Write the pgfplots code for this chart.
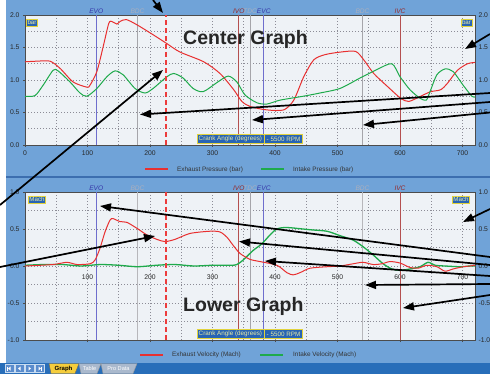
\documentclass[border=0pt]{standalone}
\usepackage{fontspec}
\setmainfont{Liberation Sans}
\usepackage{pgfplots}
\pgfplotsset{compat=1.18}
\usetikzlibrary{arrows.meta}

\definecolor{panel}{RGB}{112,163,216}
\definecolor{plotbg}{RGB}{238,242,246}
\definecolor{band}{RGB}{60,110,175}
\definecolor{tabbar}{RGB}{40,110,185}
\definecolor{tabgray}{RGB}{170,185,205}
\definecolor{exh}{RGB}{232,48,48}
\definecolor{dashc}{RGB}{236,60,60}
\definecolor{intk}{RGB}{30,170,75}
\definecolor{evline}{RGB}{110,110,205}
\definecolor{evtext}{RGB}{55,55,170}
\definecolor{bdcline}{RGB}{165,165,170}
\definecolor{bdctext}{RGB}{170,175,190}
\definecolor{ivline}{RGB}{180,80,80}
\definecolor{ivtext}{RGB}{150,40,40}
\definecolor{boxfill}{RGB}{40,100,180}
\definecolor{boxtext}{RGB}{235,235,160}
\definecolor{boxdraw}{RGB}{225,210,60}
\definecolor{gridc}{RGB}{140,140,150}

\pgfplotsset{
  chart/.style={
    scale only axis, width=450pt, xmin=0, xmax=720,
    anchor=south west, clip=false,
    axis background/.style={fill=plotbg},
    axis line style={draw=black!70, line width=0.6pt},
    grid=both,
    grid style={dash pattern=on 0.7pt off 2.3pt, draw=gridc, line width=0.6pt},
    minor grid style={dash pattern=on 0.7pt off 2.3pt, draw=gridc, line width=0.6pt},
    tick align=outside, major tick length=2pt, minor tick length=0pt,
    xtick pos=bottom, ytick pos=left,
    tick style={black!70},
    ticklabel style={font=\fontsize{6.8}{8}\selectfont, text=black!85},
    /pgf/number format/assume math mode=true,
    y tick label style={/pgf/number format/fixed, /pgf/number format/fixed zerofill, /pgf/number format/precision=1},
    every axis plot/.append style={line width=1pt, mark=none},
  },
  rightlab/.style={
    scale only axis, width=450pt, xmin=0, xmax=720, anchor=south west,
    hide x axis, axis y line*=right, y axis line style={draw=none},
    major tick length=0pt, every tick/.style={draw=none},
    ticklabel style={font=\fontsize{6.8}{8}\selectfont, text=black!85},
    /pgf/number format/assume math mode=true,
    y tick label style={/pgf/number format/fixed, /pgf/number format/fixed zerofill, /pgf/number format/precision=1},
  },
}

% event line and its label
\newcommand\evt[5]{\addplot[draw=#4, line width=#5] coordinates {(#1,#2) (#1,#3)};}
\newcommand\evl[4]{\node[font=\fontsize{6.6}{7}\selectfont\itshape, text=#3, anchor=base, inner sep=0pt, yshift=1.2pt] at (axis cs:#1,#2) {#4};}

\begin{document}
\begin{tikzpicture}
\useasboundingbox (0pt,0pt) rectangle (490pt,-374pt);
\begin{scope}[x=1pt,y=-1pt]
  \fill[white] (0,0) rectangle (6,363);
  \fill[panel] (6,0) rectangle (490,363);
  \fill[band] (6,176) rectangle (490,178.5);
  \fill[tabbar] (0,363) rectangle (490,374);
\end{scope}

% ---------- center graph ----------
\begin{axis}[chart, at={(25pt,-145pt)}, height=130pt,
  ymin=0, ymax=2, ytick={0,0.5,1,1.5,2}, minor y tick num=1,
  xtick={0,100,...,700}, minor x tick num=1]
  \evt{114}{0}{2}{evline}{0.6pt}
  \evt{180}{0}{2}{bdcline}{0.8pt}
  \evt{342}{0}{2}{ivline}{0.6pt}
  \evt{360}{0}{2}{bdcline}{0.6pt}
  \evt{382}{0}{2}{evline}{0.6pt}
  \evt{540}{0}{2}{bdcline}{0.8pt}
  \evt{600}{0}{2}{ivline}{0.6pt}
  \addplot[draw=exh, smooth, tension=0.45] coordinates {
    (0,1.28) (20,1.29) (40,1.29) (56,1.18) (77,0.97) (99,0.89) (104,0.92)
    (115,1.13) (125,1.51) (134,1.87) (139,1.90) (147,1.86) (152,1.90) (162,1.93)
    (179,1.85) (206,1.69) (227,1.56) (248,1.43) (286,1.28) (312,1.10) (334,0.85)
    (347,0.67) (361,0.59) (387,0.54) (414,0.54) (430,0.69) (446,1.05) (462,1.31)
    (480,1.39) (505,1.43) (529,1.44) (542,1.31) (558,1.10) (580,0.90) (601,0.72)
    (614,0.67) (633,0.75) (649,0.82) (665,0.85) (676,0.95) (692,1.15) (708,1.25)
    (720,1.27)};
  \addplot[draw=intk, smooth, tension=0.45] coordinates {
    (0,0.75) (16,0.76) (29,0.92) (45,1.15) (53,1.14) (72,0.97) (88,0.80) (99,0.75)
    (115,0.87) (131,1.05) (144,1.14) (157,1.08) (176,0.87) (192,0.80) (205,0.87)
    (227,1.05) (238,1.10) (253,1.03) (269,0.87) (285,0.82) (307,0.96) (325,1.06)
    (339,0.97) (352,0.77) (371,0.65) (387,0.63) (408,0.69) (445,0.75) (472,0.80)
    (504,0.87) (536,1.03) (563,1.16) (587,1.25) (600,1.05) (616,0.85) (632,0.72)
    (642,0.69) (648,0.82) (659,1.08) (672,1.17) (685,1.13) (701,0.92) (715,0.75)
    (720,0.74)};
  \addplot[draw=dashc, line width=1.9pt, dash pattern=on 5pt off 3pt] coordinates {(225,0) (225,2)};
  \evl{114}{2}{evtext}{EVO}
  \evl{180}{2}{bdctext}{BDC}
  \evl{342}{2}{ivtext}{IVO}
  \evl{360}{2}{bdctext}{TDC}
  \evl{382}{2}{evtext}{EVC}
  \evl{540}{2}{bdctext}{BDC}
  \evl{600}{2}{ivtext}{IVC}
\end{axis}
\begin{axis}[rightlab, at={(25pt,-145pt)}, height=130pt,
  ymin=0, ymax=2, ytick={0,0.5,1,1.5,2}]
\end{axis}

% ---------- lower graph ----------
\begin{axis}[chart, at={(25pt,-340pt)}, height=148pt,
  ymin=-1, ymax=1, ytick={-1,-0.5,0,0.5,1}, minor y tick num=1,
  xtick={100,200,...,700}, minor xtick={50,150,250,350,450,550,650},
  x tick label style={yshift=71pt}]
  \evt{114}{-1}{1}{evline}{0.6pt}
  \evt{180}{-1}{1}{bdcline!80}{1.4pt}
  \evt{342}{-1}{1}{ivline}{0.6pt}
  \evt{360}{-1}{1}{bdcline}{0.6pt}
  \evt{382}{-1}{1}{evline}{0.6pt}
  \evt{540}{-1}{1}{bdcline!80}{1.4pt}
  \evt{600}{-1}{1}{ivline}{0.6pt}
  \addplot[draw=intk, smooth, tension=0.45, line width=1.3pt] coordinates {
    (0,0.01) (30,0.02) (60,0.02) (90,0.0) (120,0.02) (150,0.01) (180,-0.01)
    (210,0.01) (240,0.02) (270,0.0) (300,0.01) (330,0.01) (339,0.02) (349,0.08)
    (365,0.21) (379,0.30) (392,0.42) (403,0.50) (419,0.52) (456,0.49) (483,0.47)
    (504,0.41) (525,0.35) (541,0.26) (557,0.15) (573,0.03) (587,-0.04) (600,-0.06)
    (616,-0.04) (632,-0.01) (645,0.05) (656,0.01) (672,0) (696,-0.01) (712,0) (720,0)};
  \addplot[draw=exh, smooth, tension=0.45] coordinates {
    (0,0) (45,0.02) (67,0.05) (83,0.02) (104,0.03) (112,0.08) (120,0.24) (128,0.46)
    (136,0.62) (141,0.64) (152,0.60) (163,0.59) (179,0.51) (195,0.42) (211,0.36)
    (224,0.33) (240,0.36) (264,0.44) (296,0.47) (312,0.46) (323,0.39) (333,0.28)
    (344,0.17) (360,0.09) (376,0.06) (403,0.01) (419,-0.09) (429,-0.12) (440,-0.09)
    (456,-0.03) (483,-0.01) (504,0) (525,0.03) (541,0.05) (557,0.02) (571,0.03)
    (584,0.06) (600,0.04) (616,-0.02) (629,-0.03) (643,0.01) (659,-0.01) (672,-0.07)
    (685,-0.04) (701,-0.01) (712,0) (720,0.01)};
  \addplot[draw=dashc, line width=1.9pt, dash pattern=on 5pt off 3pt] coordinates {(225,-1) (225,1)};
  \evl{114}{1}{evtext}{EVO}
  \evl{180}{1}{bdctext}{BDC}
  \evl{342}{1}{ivtext}{IVO}
  \evl{360}{1}{bdctext}{TDC}
  \evl{382}{1}{evtext}{EVC}
  \evl{540}{1}{bdctext}{BDC}
  \evl{600}{1}{ivtext}{IVC}
\end{axis}
\begin{axis}[rightlab, at={(25pt,-340pt)}, height=148pt,
  ymin=-1, ymax=1, ytick={-1,-0.5,0,0.5,1}]
\end{axis}

\begin{scope}[x=1pt,y=-1pt]
  % legends
  \draw[draw=exh, line width=2pt] (145,169.5) -- (168,169.5);
  \draw[draw=intk, line width=2pt] (261,169.5) -- (284,169.5);
  \draw[draw=exh, line width=2pt] (140,355) -- (163,355);
  \draw[draw=intk, line width=2pt] (260,355) -- (283,355);
  \tikzset{lg/.style={anchor=west, inner sep=0pt, font=\fontsize{6.4}{7}\selectfont, text=black!80}}
  \node[lg] at (177,169.5) {Exhaust Pressure (bar)};
  \node[lg] at (293,169.5) {Intake Pressure (bar)};
  \node[lg] at (172,355) {Exhaust Velocity (Mach)};
  \node[lg] at (293,355) {Intake Velocity (Mach)};
  % unit boxes
  \tikzset{ubox/.style={draw=boxdraw, fill=boxfill, text=boxtext, line width=0.6pt,
    font=\fontsize{6.2}{6}\selectfont, inner xsep=1pt, inner ysep=1.2pt}}
  \node[ubox] at (32,22.5) {bar};
  \node[ubox] at (466.5,22.5) {bar};
  \node[ubox] at (37,199.5) {Mach};
  \node[ubox] at (461,199.5) {Mach};
  % crank angle boxes
  \foreach \yy in {134.5,329.5} {
    \filldraw[fill=boxfill, draw=boxdraw, line width=0.6pt] (197,\yy) rectangle (302,\yy+8.5);
    \draw[boxdraw, line width=0.5pt] (264,\yy) -- (264,\yy+8.5);
    \node[anchor=west, inner sep=0pt, text=boxtext, font=\fontsize{6.3}{7}\selectfont] at (198.5,\yy+4.4) {Crank Angle (degrees)};
    \node[anchor=east, inner sep=0pt, text=boxtext, font=\fontsize{6.3}{7}\selectfont] at (300.5,\yy+4.4) {- 5500 RPM};
  }
  % titles
  \node[anchor=base west, inner sep=0pt, font=\fontsize{19.5}{20}\selectfont\bfseries, text=black!85] at (183,45) {Center Graph};
  \node[anchor=base west, inner sep=0pt, font=\fontsize{19.5}{20}\selectfont\bfseries, text=black!85] at (183,311) {Lower Graph};
  % tab bar
  \foreach \i in {0,1,2,3} {
    \filldraw[fill={rgb,255:red,90;green,140;blue,205}, draw={rgb,255:red,200;green,220;blue,240}, line width=0.4pt]
      (5+10*\i,364.5) rectangle (14+10*\i,372.5);
  }
  \fill[white] (10.5,366.5) -- (10.5,370.5) -- (8,368.5) -- cycle; \draw[white, line width=0.6pt] (7.5,366.5) -- (7.5,370.5);
  \fill[white] (20.5,366.5) -- (20.5,370.5) -- (18,368.5) -- cycle;
  \fill[white] (28.5,366.5) -- (28.5,370.5) -- (31,368.5) -- cycle;
  \fill[white] (38.5,366.5) -- (38.5,370.5) -- (41,368.5) -- cycle; \draw[white, line width=0.6pt] (41.5,366.5) -- (41.5,370.5);
  \filldraw[fill={rgb,255:red,245;green,205;blue,60}, draw=black!60, line width=0.4pt]
    (49,363.5) -- (51,373.5) -- (75,373.5) -- (79,363.5) -- cycle;
  \node[font=\fontsize{6}{6}\selectfont\bfseries, inner sep=0pt] at (63.5,368.7) {Graph};
  \filldraw[fill=tabgray, draw=black!40, line width=0.4pt]
    (79,363.5) -- (81,373.5) -- (97,373.5) -- (101,363.5) -- cycle;
  \node[font=\fontsize{5.6}{6}\selectfont, text=white, inner sep=0pt] at (89.5,368.7) {Table};
  \filldraw[fill=tabgray, draw=black!40, line width=0.4pt]
    (101,363.5) -- (103,373.5) -- (133,373.5) -- (137,363.5) -- cycle;
  \node[font=\fontsize{5.6}{6}\selectfont, text=white, inner sep=0pt] at (118.5,368.7) {Pro Data};
  % arrows
  \tikzset{arr/.style={draw=black, fill=black, line width=1.7pt, -{Triangle[length=11pt, width=8pt]}}}
  \draw[arr] (153,0) -- (163,13);
  \draw[arr] (0,205) -- (163,70);
  \draw[arr] (490,93) -- (140,114.5);
  \draw[arr] (490,102) -- (252,120);
  \draw[arr] (490,112.5) -- (363,125);
  \draw[arr] (490,34) -- (465,49);
  \draw[arr] (490,257) -- (100,206);
  \draw[arr] (490,265) -- (239,241.5);
  \draw[arr] (490,276) -- (265,261);
  \draw[arr] (490,284) -- (365,285);
  \draw[arr] (490,295) -- (403,308);
  \draw[arr] (490,209) -- (463,222);
  \draw[arr] (0,267) -- (155,236);
\end{scope}
\end{tikzpicture}
\end{document}
